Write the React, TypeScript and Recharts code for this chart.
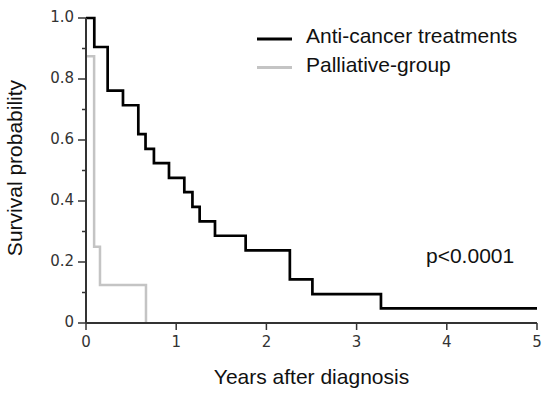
import React from 'react';
import { LineChart, Line, XAxis, YAxis, Legend, Label, Customized } from 'recharts';

// Kaplan-Meier step points (time in years, survival probability)
const antiCancerTimes = [0, 0.092, 0.24, 0.41, 0.58, 0.66, 0.753, 0.92, 1.09, 1.18, 1.26, 1.43, 1.77, 2.26, 2.51, 3.27, 5];
const antiCancerSurv = [1.0, 0.905, 0.762, 0.714, 0.619, 0.571, 0.524, 0.476, 0.429, 0.381, 0.333, 0.286, 0.238, 0.143, 0.095, 0.048, 0.048];

const palliativeTimes = [0, 0.09, 0.155, 0.665];
const palliativeSurv = [0.875, 0.25, 0.125, 0];

const xTicks = [0, 1, 2, 3, 4, 5];
const yTicks = [0, 0.1, 0.2, 0.3, 0.4, 0.5, 0.6, 0.7, 0.8, 0.9, 1.0];

const seriesNames = ['Anti-cancer treatments', 'Palliative-group'];
const seriesColors = ['#000000', '#c4c4c4'];
const pValueText = 'p<0.0001';

const antiData = antiCancerTimes.map((t, i) => ({ t, s: antiCancerSurv[i] }));
const pallData = palliativeTimes.map((t, i) => ({ t, s: palliativeSurv[i] }));

const LABEL_FONT = '"Liberation Sans", Arial, sans-serif';
const TICK_FONT = '"DejaVu Sans", Verdana, sans-serif';

const YTick = (props: any) => {
  const { x, y, payload } = props;
  const v = payload.value as number;
  const major = Math.round(v * 10) % 2 === 0;
  const label = v === 0 ? '0' : v.toFixed(1);
  return (
    <g>
      <line x1={x + (major ? 4 : 8)} x2={x + 12} y1={y} y2={y} stroke="#333" strokeWidth={1.5} />
      {major && (
        <text x={x} y={y - 1} textAnchor="end" dominantBaseline="central" fill="#333" fontSize={15} fontFamily={TICK_FONT}>
          {label}
        </text>
      )}
    </g>
  );
};

const renderLegend = () => (
  <svg width={300} height={60}>
    {seriesNames.map((name, i) => (
      <g key={name}>
        <line x1={7} x2={42} y1={19 + i * 28.5} y2={19 + i * 28.5} stroke={seriesColors[i]} strokeWidth={3} />
        <text x={56} y={23 + i * 28.5} fontSize={21} fontFamily={LABEL_FONT} fill="#111">
          {name}
        </text>
      </g>
    ))}
  </svg>
);

const PValue = () => (
  <text x={426} y={263} fontSize={21} fontFamily={LABEL_FONT} fill="#111">
    {pValueText}
  </text>
);

export default function App() {
  return (
    <div style={{ position: 'absolute', left: 0, top: 0 }}>
      <LineChart width={550} height={397} margin={{ top: 18, right: 13, bottom: 0, left: 0 }}>
        <XAxis
          type="number"
          dataKey="t"
          domain={[0, 5]}
          ticks={xTicks}
          height={74}
          tickSize={7}
          tickMargin={6}
          stroke="#333"
          strokeWidth={2}
          tick={{ fill: '#333', fontSize: 15, fontFamily: TICK_FONT }}
          tickLine={{ stroke: '#333', strokeWidth: 1.5 }}
          allowDataOverflow
        >
          <Label
            content={(p: any) => {
              const vb = p.viewBox;
              return (
                <text x={vb.x + vb.width / 2} y={384} textAnchor="middle" fontSize={21} fontFamily={LABEL_FONT} fill="#111">
                  Years after diagnosis
                </text>
              );
            }}
          />
        </XAxis>
        <YAxis
          type="number"
          dataKey="s"
          domain={[0, 1]}
          ticks={yTicks}
          width={86}
          tickSize={8}
          tickMargin={4}
          stroke="#333"
          strokeWidth={2}
          tickLine={false}
          tick={<YTick />}
          interval={0}
        >
          <Label
            content={(p: any) => {
              const vb = p.viewBox;
              const cy = 168;
              const cx = vb.x + 22;
              return (
                <text x={cx} y={cy} transform={`rotate(-90, ${cx}, ${cy})`} textAnchor="middle" fontSize={21} fontFamily={LABEL_FONT} fill="#111">
                  Survival probability
                </text>
              );
            }}
          />
        </YAxis>
        <Legend layout="vertical" align="center" verticalAlign="middle" content={renderLegend} wrapperStyle={{ left: 250, top: 20, width: 300, height: 60 }} />
        <Line data={pallData} dataKey="s" type="stepAfter" stroke={seriesColors[1]} strokeWidth={2.5} dot={false} activeDot={false} isAnimationActive={false} name={seriesNames[1]} />
        <Line data={antiData} dataKey="s" type="stepAfter" stroke={seriesColors[0]} strokeWidth={2.7} dot={false} activeDot={false} isAnimationActive={false} name={seriesNames[0]} />
        <Customized component={PValue} />
      </LineChart>
    </div>
  );
}
